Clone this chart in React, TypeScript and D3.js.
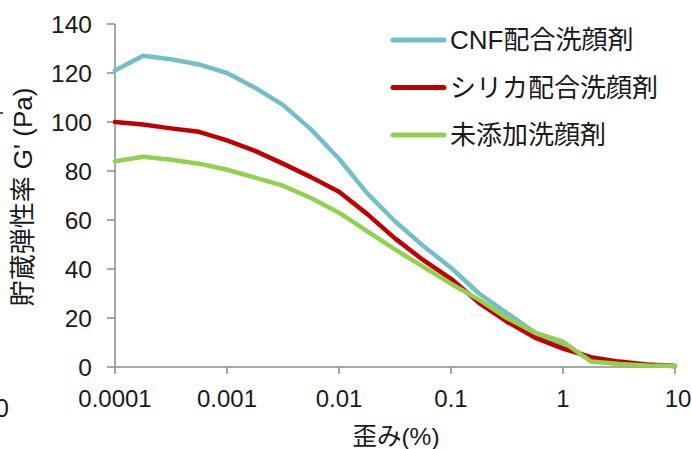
import React from "react";
import * as d3 from "d3";

const strain = [0.0001, 0.000178, 0.000316, 0.000562, 0.001, 0.00178, 0.00316, 0.00562, 0.01, 0.0178, 0.0316, 0.0562, 0.1, 0.178, 0.316, 0.562, 1, 1.78, 3.16, 5.62, 10];
const cnf = [121, 127, 125.6, 123.5, 120, 114, 107, 97, 85, 71, 59.5, 49.5, 40.5, 30, 22, 14, 9, 3.5, 1.8, 0.9, 0.4];
const silica = [100, 99, 97.4, 96, 92.5, 88.2, 83, 77.5, 71.5, 62.5, 52.5, 43.7, 36, 26.2, 18.5, 12, 7.5, 4, 2.2, 1, 0.4];
const plain = [84, 85.8, 84.6, 83, 80.5, 77.3, 74, 69, 63, 55.5, 48, 41, 34, 27.5, 20, 14, 10.3, 2.2, 1.2, 0.6, 0.4];
const seriesNames = ["CNF配合洗顔剤", "シリカ配合洗顔剤", "未添加洗顔剤"];
const seriesColors = ["#72BFC6", "#C00000", "#92D050"];
const xTicks = [0.0001, 0.001, 0.01, 0.1, 1, 10];
const xTickLabels = ["0.0001", "0.001", "0.01", "0.1", "1", "10"];
const yTicks = [0, 20, 40, 60, 80, 100, 120, 140];
const yTitle = "貯蔵弾性率 G' (Pa)";
const xTitle = "歪み(%)";

const FONT = "'Liberation Sans', Arial, 'Noto Sans CJK JP', sans-serif";

export default function App() {
  const W = 692, H = 449;
  const x = d3.scaleLog().domain([0.0001, 10]).range([115, 675]);
  const y = d3.scaleLinear().domain([0, 140]).range([367, 24]);
  const line = d3.line<[number, number]>().x(d => x(d[0])).y(d => y(d[1]));
  const series = [cnf, silica, plain];
  const axisColor = "#8a8a8a";
  return (
    <svg width={W} height={H} style={{ position: "absolute", left: 0, top: 0, background: "#fff" }} fontFamily={FONT}>
      <rect x={0} y={0} width={W} height={H} fill="#fff" />
      {/* stray fragments from cropped source */}
      <text x={9} y={417} fontSize={25} textAnchor="end" fill="#1a1a1a">0</text>
      <line x1={0} x2={3} y1={113} y2={113} stroke="#1a1a1a" strokeWidth={1.5} />
      {/* axes */}
      <line x1={115} x2={115} y1={y(140)} y2={y(0)} stroke={axisColor} strokeWidth={1.5} />
      <line x1={115} x2={675} y1={y(0)} y2={y(0)} stroke={axisColor} strokeWidth={1.5} />
      {yTicks.map(t => (
        <g key={"y" + t}>
          <line x1={107} x2={115} y1={y(t)} y2={y(t)} stroke={axisColor} strokeWidth={1.5} />
          <text x={92} y={y(t)} dy="0.36em" fontSize={24.5} textAnchor="end" fill="#1a1a1a">{t}</text>
        </g>
      ))}
      {xTicks.map((t, i) => (
        <g key={"x" + t}>
          <line x1={x(t)} x2={x(t)} y1={y(0)} y2={y(0) + 7} stroke={axisColor} strokeWidth={1.5} />
          <text x={i === xTicks.length - 1 ? x(t) + 3 : x(t)} y={407} fontSize={24} textAnchor="middle" fill="#1a1a1a">{xTickLabels[i]}</text>
        </g>
      ))}
      {/* series */}
      {series.map((vals, i) => (
        <path key={"s" + i}
          d={line(strain.map((s, j) => [s, vals[j]] as [number, number])) || ""}
          fill="none" stroke={seriesColors[i]} strokeWidth={4.5} strokeLinejoin="round" strokeLinecap="round" />
      ))}
      {/* legend */}
      {seriesNames.map((n, i) => (
        <g key={"l" + i}>
          <line x1={393} x2={444} y1={40 + i * 47.5} y2={40 + i * 47.5} stroke={seriesColors[i]} strokeWidth={5} strokeLinecap="round" />
          <text x={450} y={40 + i * 47.5} dy="0.36em" fontSize={26} fill="#1a1a1a">{n}</text>
        </g>
      ))}
      {/* axis titles */}
      <text transform={`translate(23,197) rotate(-90)`} fontSize={26} textAnchor="middle" dy="0.36em" fill="#1a1a1a">{yTitle}</text>
      <text x={396} y={445} fontSize={24.5} textAnchor="middle" fill="#1a1a1a">{xTitle}</text>
    </svg>
  );
}
